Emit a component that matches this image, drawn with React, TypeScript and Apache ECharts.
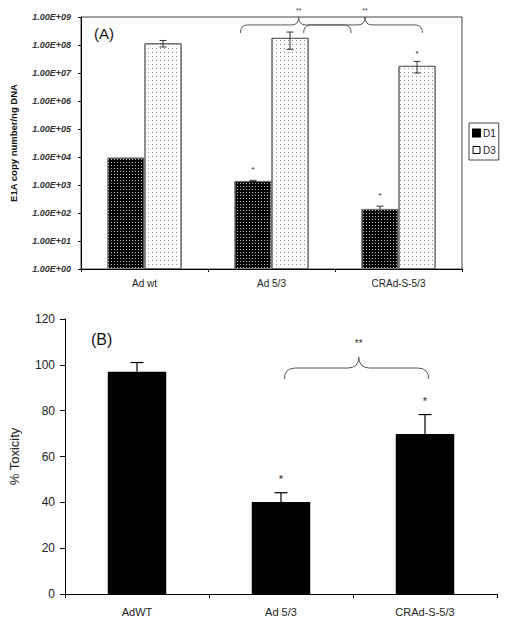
import React, { useEffect, useRef } from "react";
import * as echarts from "echarts";

// ---------- Data ----------
const categoriesA = ["Ad wt", "Ad 5/3", "CRAd-S-5/3"];
const d1Values = [9.5e3, 1.4e3, 1.4e2];
const d1Errors = [0, 0.06e3, 0.35e2];
const d1Stars = ["", "*", "*"];
const d3Values = [1.15e8, 1.8e8, 1.8e7];
const d3Errors = [0.3e8, 1.1e8, 0.8e7];
const d3Stars = ["", "", "*"];

const categoriesB = ["AdWT", "Ad 5/3", "CRAd-S-5/3"];
const toxicity = [97, 40.2, 69.8];
const toxicityErrors = [4, 4, 8.5];
const toxicityStars = ["", "*", "*"];

// significance braces: [category index, band-fraction offset]
const bracesA = [
  { from: [1, -0.245], peak: [1, 0.214], to: [1, 0.627], value: 5.2e8, label: "**" },
  { from: [1, 0.253], peak: [2, -0.264], to: [2, 0.188], value: 5.2e8, label: "**" },
];
const bracesB = [
  { from: [1, 0.023], peak: [1, 0.54], to: [2, 0.026], value: 98.6, label: "**" },
];

const FONT = "'Liberation Sans', Arial, Helvetica, sans-serif";

function expLabel(v: number) {
  const e = Math.round(Math.log10(v));
  return "1.00E+" + String(e).padStart(2, "0");
}

function errorBarSeries(
  name: string,
  axisIdx: number,
  values: number[],
  errors: number[],
  stars: string[],
  offsetFrac: number,
  cap: number,
  color: string,
  lineWidth: number,
  starSize: number,
  starGap: number,
  showLower: boolean
) {
  return {
    type: "custom",
    name,
    xAxisIndex: axisIdx,
    yAxisIndex: axisIdx,
    z: 5,
    silent: true,
    data: values.map((v, i) => [i, v, errors[i]]),
    renderItem: (params: any, api: any) => {
      const i = params.dataIndex;
      const band = api.size([1, 0])[0];
      const mean = values[i];
      const err = errors[i];
      const center = api.coord([i, mean]);
      const x = center[0] + offsetFrac * band;
      const top = api.coord([i, mean + err])[1];
      const low = showLower ? api.coord([i, Math.max(mean - err, 1e-9)])[1] : center[1];
      const children: any[] = [];
      if (err > 0) {
        const st = { stroke: color, lineWidth };
        children.push({ type: "line", shape: { x1: x, y1: top, x2: x, y2: low }, style: st });
        children.push({ type: "line", shape: { x1: x - cap / 2, y1: top, x2: x + cap / 2, y2: top }, style: st });
        if (showLower)
          children.push({ type: "line", shape: { x1: x - cap / 2, y1: low, x2: x + cap / 2, y2: low }, style: st });
      }
      if (stars[i]) {
        children.push({
          type: "text",
          style: {
            text: stars[i],
            x,
            y: Math.min(top, center[1]) - starGap,
            textAlign: "center",
            textVerticalAlign: "middle",
            fontSize: starSize,
            fontFamily: FONT,
            fill: "#222",
          },
        });
      }
      return { type: "group", children };
    },
  };
}

function braceSeries(axisIdx: number, braces: any[], h: number, r: number, fontSize: number, labelGap: number) {
  return {
    type: "custom",
    xAxisIndex: axisIdx,
    yAxisIndex: axisIdx,
    z: 6,
    silent: true,
    data: braces.map((b) => [b.from[0], b.value]),
    renderItem: (params: any, api: any) => {
      const b = braces[params.dataIndex];
      const band = api.size([1, 0])[0];
      const px = (c: number[]) => api.coord([c[0], b.value])[0] + c[1] * band;
      const y = api.coord([b.from[0], b.value])[1];
      const x1 = px(b.from);
      const xp = px(b.peak);
      const x2 = px(b.to);
      const st = { stroke: "#555", lineWidth: 1, fill: "none" };
      return {
        type: "group",
        children: [
          { type: "bezierCurve", shape: { x1, y1: y + h, x2: x1 + r, y2: y, cpx1: x1, cpy1: y }, style: st },
          { type: "line", shape: { x1: x1 + r, y1: y, x2: xp - r, y2: y }, style: st },
          { type: "bezierCurve", shape: { x1: xp - r, y1: y, x2: xp, y2: y - h, cpx1: xp, cpy1: y }, style: st },
          { type: "bezierCurve", shape: { x1: xp, y1: y - h, x2: xp + r, y2: y, cpx1: xp, cpy1: y }, style: st },
          { type: "line", shape: { x1: xp + r, y1: y, x2: x2 - r, y2: y }, style: st },
          { type: "bezierCurve", shape: { x1: x2 - r, y1: y, x2, y2: y + h, cpx1: x2, cpy1: y }, style: st },
          {
            type: "text",
            style: {
              text: b.label,
              x: xp,
              y: y - h - labelGap,
              textAlign: "center",
              textVerticalAlign: "middle",
              fontSize,
              fontFamily: FONT,
              fill: "#333",
            },
          },
        ],
      };
    },
  };
}

export default function App() {
  const ref = useRef<HTMLDivElement>(null);

  useEffect(() => {
    if (!ref.current) return;
    const chart = echarts.init(ref.current, undefined, { renderer: "svg" });

    const d1Decal = {
      symbol: "rect",
      symbolSize: 1,
      dashArrayX: [1, 2],
      dashArrayY: [1, 2],
      color: "rgba(255,255,255,0.75)",
      backgroundColor: "#000",
    };
    const d3Decal = {
      symbol: "rect",
      symbolSize: 1,
      dashArrayX: [1, 3],
      dashArrayY: [1, 3],
      color: "#8a8a8a",
      backgroundColor: "#fff",
    };

    const option: any = {
      animation: false,
      backgroundColor: "#fff",
      textStyle: { fontFamily: FONT },
      grid: [
        { left: 77, top: 17, width: 385, height: 252, show: true, borderColor: "#444", borderWidth: 1, backgroundColor: "transparent" },
        { left: 61, top: 319, width: 436, height: 275 },
      ],
      legend: {
        left: 469,
        top: 123,
        orient: "vertical",
        itemWidth: 7,
        itemHeight: 7,
        itemGap: 7,
        padding: [5, 3, 5, 3],
        borderColor: "#444",
        borderWidth: 1,
        textStyle: { fontSize: 10, color: "#222", fontFamily: FONT, padding: [0, 0, 0, -2] },
        data: [
          { name: "D1", icon: "rect", itemStyle: { color: "#000", borderColor: "#000", decal: "none" } },
          { name: "D3", icon: "rect", itemStyle: { color: "#fff", borderColor: "#000", borderWidth: 1, decal: "none" } },
        ],
      },
      xAxis: [
        {
          type: "category",
          gridIndex: 0,
          data: categoriesA,
          axisLine: { lineStyle: { color: "#000", width: 1 } },
          axisTick: { show: true, length: 3, lineStyle: { color: "#000" } },
          axisLabel: { fontSize: 10, color: "#222", margin: 9, fontFamily: FONT },
        },
        {
          type: "category",
          gridIndex: 1,
          data: categoriesB,
          axisLine: { lineStyle: { color: "#000", width: 1 } },
          axisTick: { show: true, length: 4, lineStyle: { color: "#000" } },
          axisLabel: { fontSize: 11, color: "#222", margin: 12, fontFamily: FONT },
        },
      ],
      yAxis: [
        {
          type: "log",
          gridIndex: 0,
          logBase: 10,
          min: 1,
          max: 1e9,
          interval: 1,
          name: "E1A copy number/ng DNA",
          nameLocation: "middle",
          nameGap: 63,
          nameTextStyle: { fontSize: 9.5, color: "#111", fontFamily: FONT, fontWeight: "bold" },
          axisLine: { show: true, lineStyle: { color: "#000", width: 1 } },
          axisTick: { show: true, length: 3, lineStyle: { color: "#000" } },
          splitLine: { show: false },
          minorTick: { show: false },
          axisLabel: {
            formatter: (v: number) => expLabel(v),
            fontSize: 9,
            fontWeight: "bold",
            fontStyle: "italic",
            color: "#333",
            margin: 10,
            fontFamily: FONT,
          },
        },
        {
          type: "value",
          gridIndex: 1,
          min: 0,
          max: 120,
          interval: 20,
          name: "% Toxicity",
          nameLocation: "middle",
          nameGap: 44,
          nameTextStyle: { fontSize: 13, color: "#222", fontFamily: FONT },
          axisLine: { show: true, lineStyle: { color: "#000", width: 1 } },
          axisTick: { show: true, length: 5, lineStyle: { color: "#000" } },
          splitLine: { show: false },
          axisLabel: { fontSize: 12, color: "#222", margin: 10, fontFamily: FONT },
        },
      ],
      graphic: [
        { type: "text", left: 94, top: 26, style: { text: "(A)", fontSize: 15, fill: "#111", fontFamily: FONT } },
        { type: "text", left: 91, top: 331, style: { text: "(B)", fontSize: 16, fill: "#111", fontFamily: FONT } },
      ],
      series: [
        {
          name: "D1",
          type: "bar",
          xAxisIndex: 0,
          yAxisIndex: 0,
          data: d1Values,
          barWidth: "29.2%",
          barGap: "0%",
          itemStyle: { color: "#000", borderColor: "#777", borderWidth: 1, decal: d1Decal },
        },
        {
          name: "D3",
          type: "bar",
          xAxisIndex: 0,
          yAxisIndex: 0,
          data: d3Values,
          barWidth: "29.2%",
          barGap: "0%",
          itemStyle: { color: "#fff", borderColor: "#666", borderWidth: 1, decal: d3Decal },
        },
        errorBarSeries("errD1", 0, d1Values, d1Errors, d1Stars, -0.146, 7, "#333", 1, 8, 11, true),
        errorBarSeries("errD3", 0, d3Values, d3Errors, d3Stars, 0.146, 7, "#333", 1, 8, 8, true),
        braceSeries(0, bracesA, 8, 7, 7, 6),
        {
          name: "Toxicity",
          type: "bar",
          xAxisIndex: 1,
          yAxisIndex: 1,
          data: toxicity,
          barWidth: "40.6%",
          itemStyle: { color: "#000" },
        },
        errorBarSeries("errTox", 1, toxicity, toxicityErrors, toxicityStars, 0, 13, "#000", 1.2, 11, 14, false),
        braceSeries(1, bracesB, 11, 11, 10, 14),
      ],
    };

    chart.setOption(option);
    return () => chart.dispose();
  }, []);

  return (
    <div
      ref={ref}
      style={{ position: "absolute", left: 0, top: 0, width: 507, height: 626, background: "#fff" }}
    />
  );
}
